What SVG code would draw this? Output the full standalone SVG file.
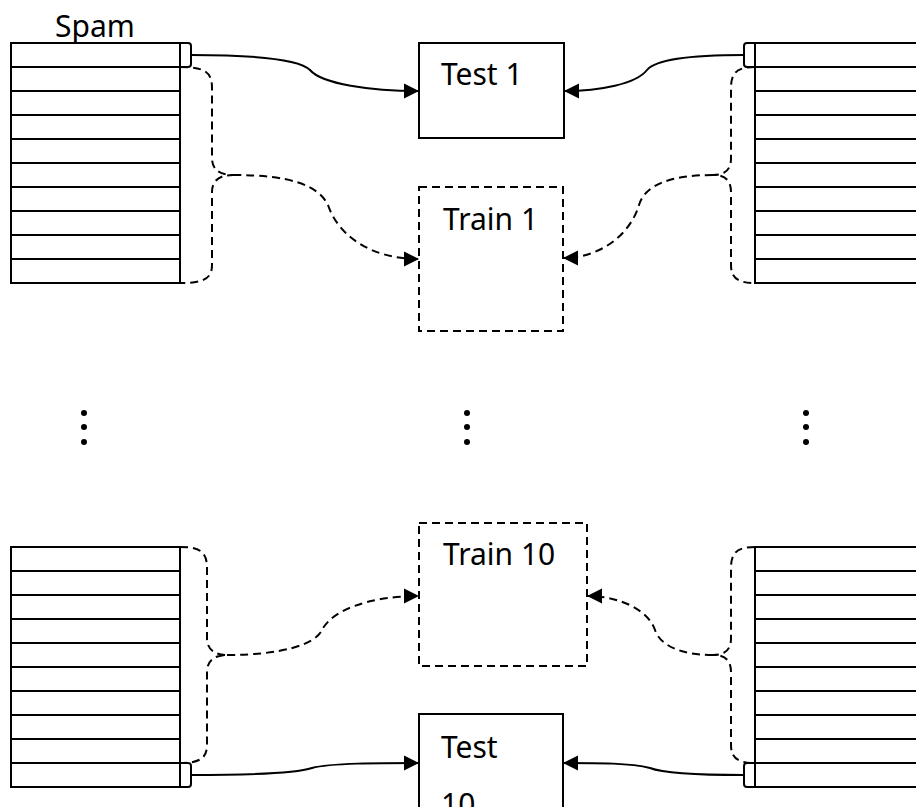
<svg xmlns="http://www.w3.org/2000/svg" width="916" height="807" viewBox="0 0 916 807">
<style>
.tbl{fill:#fff;stroke:#000;stroke-width:2}
.row{stroke:#000;stroke-width:2}
.box{fill:#fff;stroke:#000;stroke-width:2}
.dbox{fill:#fff;stroke:#000;stroke-width:2;stroke-dasharray:8 5}
.c{fill:none;stroke:#000;stroke-width:2}
.d{fill:none;stroke:#000;stroke-width:2;stroke-dasharray:8 5}
.arr{marker-end:url(#ah)}
text{font-family:"Noto Sans","DejaVu Sans",sans-serif;font-size:30px;fill:#000}
.dot{fill:#000}
</style>
<defs>
<marker id="ah" markerUnits="userSpaceOnUse" markerWidth="16" markerHeight="16" refX="15" refY="8" orient="auto" viewBox="0 0 16 16">
<path d="M0,0.5 L15,8 L0,15.5 z" fill="#000"/>
</marker>
</defs>
<text x="55" y="37">Spam</text>
<g id="table-spam-top">
<rect class="tbl" x="11" y="43" width="169" height="240"/>
<path class="row" d="M11,67H180M11,91H180M11,115H180M11,139H180M11,163H180M11,187H180M11,211H180M11,235H180M11,259H180"/>
</g>
<g id="table-ham-top">
<rect class="tbl" x="755" y="43" width="170" height="240"/>
<path class="row" d="M755,67H916M755,91H916M755,115H916M755,139H916M755,163H916M755,187H916M755,211H916M755,235H916M755,259H916"/>
</g>
<g id="table-spam-bottom">
<rect class="tbl" x="11" y="547" width="169" height="240"/>
<path class="row" d="M11,571H180M11,595H180M11,619H180M11,643H180M11,667H180M11,691H180M11,715H180M11,739H180M11,763H180"/>
</g>
<g id="table-ham-bottom">
<rect class="tbl" x="755" y="547" width="170" height="240"/>
<path class="row" d="M755,571H916M755,595H916M755,619H916M755,643H916M755,667H916M755,691H916M755,715H916M755,739H916M755,763H916"/>
</g>
<g id="test1">
<rect class="box" x="419" y="43" width="145" height="95"/>
<text x="441" y="85">Test 1</text>
</g>
<g id="train1">
<rect class="dbox" x="419" y="187" width="144" height="144"/>
<text x="443" y="230">Train 1</text>
</g>
<g id="train10">
<rect class="dbox" x="419" y="523" width="168" height="143"/>
<text x="443" y="565">Train 10</text>
</g>
<g id="test10">
<rect class="box" x="419" y="714" width="144" height="110"/>
<text x="441" y="758">Test</text>
<text x="441" y="815">10</text>
</g>
<g id="ellipsis">
<circle class="dot" cx="84" cy="413" r="3"/><circle class="dot" cx="84" cy="427" r="3"/><circle class="dot" cx="84" cy="442" r="3"/>
<circle class="dot" cx="467" cy="413" r="3"/><circle class="dot" cx="467" cy="427" r="3"/><circle class="dot" cx="467" cy="442" r="3"/>
<circle class="dot" cx="806" cy="413" r="3"/><circle class="dot" cx="806" cy="427" r="3"/><circle class="dot" cx="806" cy="442" r="3"/>
</g>
<g id="connectors">
<path class="c" d="M180,43 L188,43 Q191,43 191,46 L191,64 Q191,67 188,67 L180,67"/>
<path class="c" d="M755,43 L747,43 Q744,43 744,46 L744,64 Q744,67 747,67 L755,67"/>
<path class="c" d="M180,763 L188,763 Q191,763 191,766 L191,784 Q191,787 188,787 L180,787"/>
<path class="c" d="M755,763 L747,763 Q744,763 744,766 L744,784 Q744,787 747,787 L755,787"/>
<path class="d" d="M180,67 C205,67 212,72 212,88 L212,158 C212,170 220,175 233,175 C220,175 212,180 212,192 L212,265 C212,278 205,283 180,283"/>
<path class="d" d="M755,67 C738,67 731,72 731,88 L731,158 C731,170 725,175 713,175 C725,175 731,180 731,192 L731,265 C731,278 738,283 755,283"/>
<path class="d" d="M180,547 C200,547 207,552 207,568 L207,638 C207,650 215,655 227,655 C215,655 207,660 207,672 L207,745 C207,758 200,763 180,763"/>
<path class="d" d="M755,547 C738,547 731,552 731,568 L731,638 C731,650 725,655 713,655 C725,655 731,660 731,672 L731,745 C731,758 738,763 755,763"/>
<path class="c arr" d="M191,55 C260,55 300,60 310,70 C322,84 370,91 419,91"/>
<path class="d arr" d="M233,175 C290,175 318,185 328,205 C338,235 370,259 419,259"/>
<path class="c arr" d="M744,55 C690,55 655,60 647,70 C636,84 600,91 564,91"/>
<path class="d arr" d="M713,175 C670,175 645,185 639,205 C630,235 600,258 563,258"/>
<path class="c arr" d="M191,775 C260,775 300,772 312,768 C330,763 380,763 419,763"/>
<path class="d arr" d="M227,655 C280,655 315,645 322,630 C332,610 370,596 419,596"/>
<path class="c arr" d="M744,775 C690,775 660,772 650,768 C630,763 600,763 563,763"/>
<path class="d arr" d="M713,655 C680,655 660,645 655,630 C648,610 620,596 587,596"/>
</g>
</svg>
